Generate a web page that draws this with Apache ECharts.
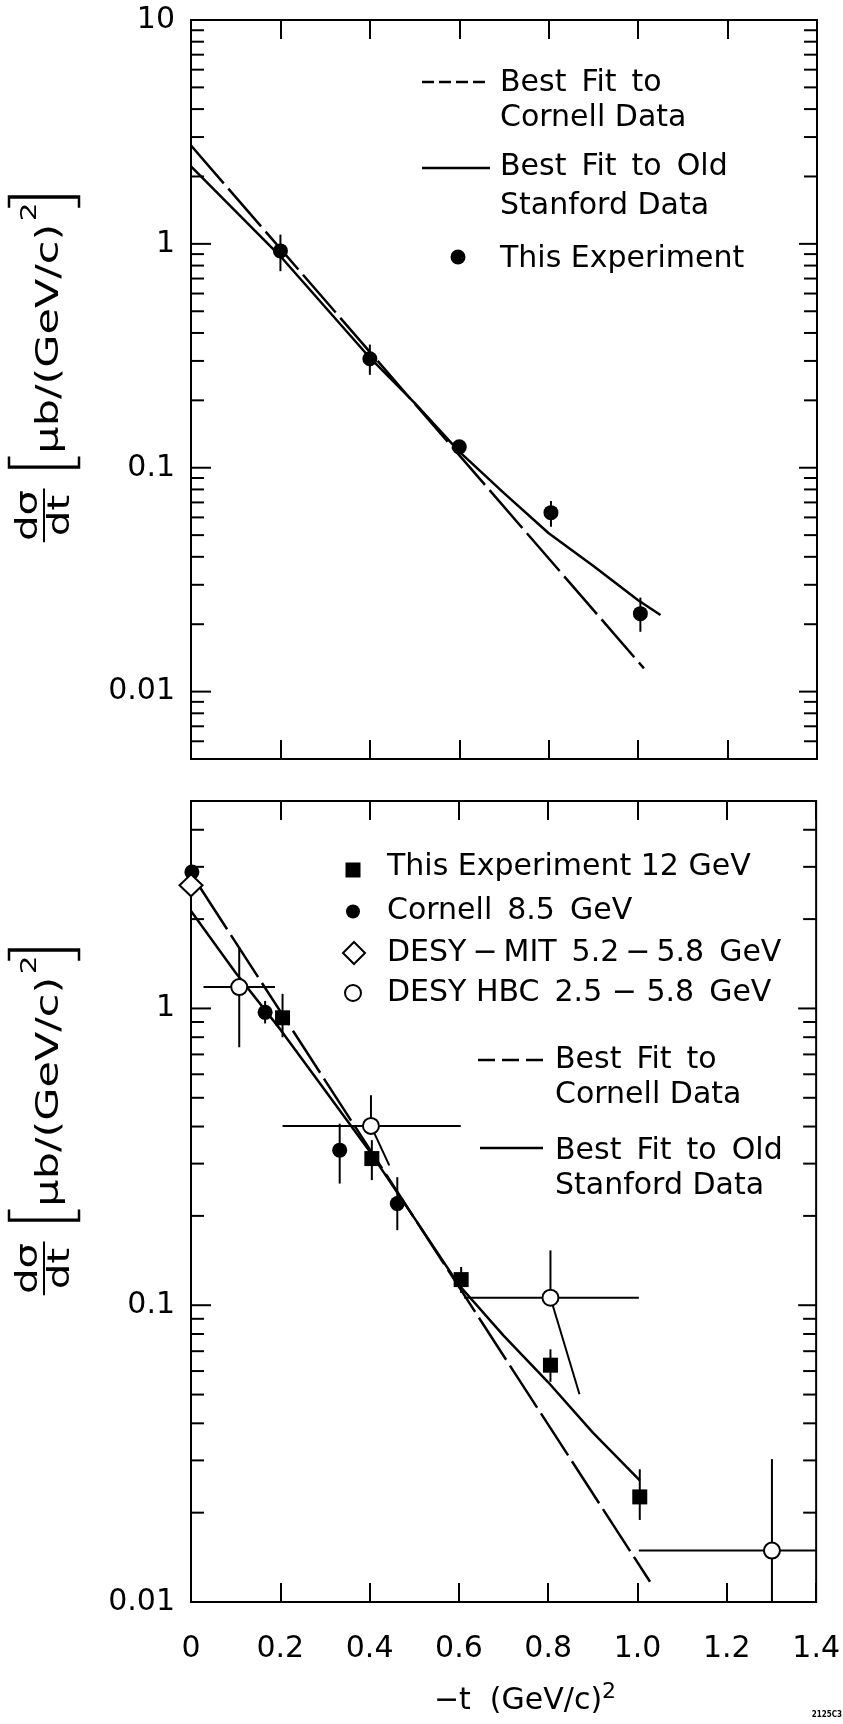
<!DOCTYPE html>
<html>
<head>
<meta charset="utf-8">
<script src="https://cdn.jsdelivr.net/npm/echarts@6/dist/echarts.min.js"></script>
<style>
html, body { margin: 0; padding: 0; background: #fff; }
#main { width: 843px; height: 1724px; }
</style>
</head>
<body>
<div id="main"></div>
<script>
// values, -t in (GeV/c)^2, dsigma/dt in ub/(GeV/c)^2

// upper panel
var topExpX = [0.2, 0.4, 0.6, 0.805, 1.005];
var topExpY = [0.93, 0.307, 0.124, 0.063, 0.0223];
var topExpLo = [0.755, 0.26, 0.113, 0.0545, 0.0185];
var topExpHi = [1.10, 0.355, 0.133, 0.071, 0.0263];

var topCornellFit = [[0, 2.75], [1.013, 0.0127]];
var topStanfordFit = [[0, 2.22], [0.2, 0.88], [0.4, 0.31], [0.5, 0.195], [0.6, 0.118], [0.7, 0.077],
  [0.8, 0.051], [0.9, 0.0364], [1.0, 0.0256], [1.05, 0.022]];

// lower panel
var expX = [0.205, 0.405, 0.605, 0.805, 1.005];
var expY = [0.93, 0.312, 0.122, 0.0628, 0.0226];
var expLo = [0.80, 0.264, 0.11, 0.0552, 0.0189];
var expHi = [1.12, 0.36, 0.1345, 0.071, 0.028];

var cornellX = [0.002, 0.166, 0.333, 0.462];
var cornellY = [2.88, 0.97, 0.333, 0.22];
var cornellLo = [null, 0.89, 0.257, 0.179];
var cornellHi = [null, 1.06, 0.409, 0.27];

var desyMitX = [0.0];
var desyMitY = [2.6];

var hbcX = [0.108, 0.403, 0.805, 1.301];
var hbcY = [1.18, 0.402, 0.106, 0.0149];
var hbcXLo = [0.028, 0.205, 0.612, 1.003];
var hbcXHi = [0.188, 0.604, 1.003, 1.4];
var hbcYHi = [1.61, 0.51, 0.153, 0.0303];
// lower ends of the vertical bars, two of them run slanted in the original
var hbcLowX = [0.108, 0.444, 0.87, 1.301];
var hbcLowY = [0.74, 0.296, 0.0501, 0.01];

var cornellFit = [[0.02, 2.56], [1.028, 0.0117]];
var stanfordFit = [[0, 2.13], [0.1, 1.32], [0.2, 0.85], [0.3, 0.53], [0.4, 0.33], [0.5, 0.197],
  [0.6, 0.117], [0.7, 0.079], [0.8, 0.055], [0.9, 0.0372], [1.005, 0.0257]];

// axes
var xTickLabels = ['0', '0.2', '0.4', '0.6', '0.8', '1.0', '1.2', '1.4'];
var yTickLabels = ['0.01', '0.1', '1', '10'];
var topMajor = [0.01, 0.1, 1, 10];
var topMinor = [0.006, 0.007, 0.008, 0.009, 0.02, 0.03, 0.04, 0.05, 0.06, 0.07, 0.08, 0.09,
  0.2, 0.3, 0.4, 0.5, 0.6, 0.7, 0.8, 0.9, 2, 3, 4, 5, 6, 7, 8, 9];
var botMajor = [0.01, 0.1, 1];
var botMinor = [0.02, 0.03, 0.04, 0.05, 0.06, 0.07, 0.08, 0.09,
  0.2, 0.3, 0.4, 0.5, 0.6, 0.7, 0.8, 0.9, 2, 3, 4];

var FONT = 'DejaVu Sans';
var INK = '#000';
var SP = '\u2002'; // the lettering has wide word gaps
var TH = '\u2009';

var chart = echarts.init(document.getElementById('main'), null, { renderer: 'canvas' });

function zip(xs, ys) {
  var out = [];
  for (var i = 0; i < xs.length; i++) out.push([xs[i], ys[i]]);
  return out;
}

var measureCtx = document.createElement('canvas').getContext('2d');
function textWidth(s, size) {
  measureCtx.font = size + 'px "' + FONT + '"';
  return measureCtx.measureText(s).width;
}

function xAxisFor(grid, pos, withLabels) {
  return {
    type: 'value', gridIndex: grid, position: pos, min: 0, max: 1.4, interval: 0.2,
    axisLine: { show: false },
    splitLine: { show: false },
    axisTick: { show: true, inside: true, length: 19, lineStyle: { color: INK, width: 2 } },
    axisLabel: {
      show: withLabels, margin: 32, color: INK, fontSize: 30, fontFamily: FONT,
      formatter: function (v) { return xTickLabels[Math.round(v / 0.2)]; }
    }
  };
}

function yAxisFor(grid, min, max) {
  return {
    type: 'log', logBase: 10, gridIndex: grid, min: min, max: max,
    axisLine: { show: false },
    splitLine: { show: false },
    axisTick: { show: false },
    axisLabel: {
      margin: 16, color: INK, fontSize: 30, fontFamily: FONT,
      formatter: function (v) {
        var e = Math.log10(v);
        var r = Math.round(e);
        if (Math.abs(e - r) > 1e-6) return '';
        return yTickLabels[r + 2] || '';
      }
    }
  };
}

// tick marks on both vertical edges, placed through the log axis
function tickSeries(grid, vals, lenL, lenR) {
  return {
    type: 'custom', xAxisIndex: grid * 2, yAxisIndex: grid, silent: true, clip: false, z: 5,
    data: vals.map(function (v) { return [0, v]; }),
    renderItem: function (params, api) {
      var v = api.value(1);
      var a = api.coord([0, v]);
      var b = api.coord([1.4, v]);
      return {
        type: 'group', children: [
          { type: 'line', shape: { x1: a[0], y1: a[1], x2: a[0] + lenL, y2: a[1] }, style: { stroke: INK, lineWidth: 2 } },
          { type: 'line', shape: { x1: b[0] - lenR, y1: b[1], x2: b[0], y2: b[1] }, style: { stroke: INK, lineWidth: 2 } }
        ]
      };
    }
  };
}

function vBars(grid, xs, lo, hi) {
  var data = [];
  for (var i = 0; i < xs.length; i++) {
    if (lo[i] != null) data.push([xs[i], lo[i], hi[i]]);
  }
  return {
    type: 'custom', xAxisIndex: grid * 2, yAxisIndex: grid, silent: true, z: 3,
    encode: { x: 0, y: [1, 2] },
    data: data,
    renderItem: function (params, api) {
      var a = api.coord([api.value(0), api.value(1)]);
      var b = api.coord([api.value(0), api.value(2)]);
      return { type: 'line', shape: { x1: a[0], y1: a[1], x2: b[0], y2: b[1] }, style: { stroke: INK, lineWidth: 2 } };
    }
  };
}

function hbcBars() {
  var data = [];
  for (var i = 0; i < hbcX.length; i++) {
    data.push([hbcX[i], hbcY[i], hbcXLo[i], hbcXHi[i], hbcYHi[i], hbcLowX[i], hbcLowY[i]]);
  }
  return {
    type: 'custom', xAxisIndex: 2, yAxisIndex: 1, silent: true, z: 3,
    encode: { x: [0, 2, 3, 5], y: [1, 4, 6] },
    data: data,
    renderItem: function (params, api) {
      var c = api.coord([api.value(0), api.value(1)]);
      var l = api.coord([api.value(2), api.value(1)]);
      var r = api.coord([api.value(3), api.value(1)]);
      var u = api.coord([api.value(0), api.value(4)]);
      var d = api.coord([api.value(5), api.value(6)]);
      var st = { stroke: INK, lineWidth: 2 };
      return {
        type: 'group', children: [
          { type: 'line', shape: { x1: l[0], y1: l[1], x2: r[0], y2: r[1] }, style: st },
          { type: 'line', shape: { x1: c[0], y1: c[1], x2: u[0], y2: u[1] }, style: st },
          { type: 'line', shape: { x1: c[0], y1: c[1], x2: d[0], y2: d[1] }, style: st }
        ]
      };
    }
  };
}

function fitLine(grid, data, dashed) {
  return {
    type: 'line', xAxisIndex: grid * 2, yAxisIndex: grid, data: data, silent: true, z: 2,
    showSymbol: false, symbol: 'none', smooth: false,
    lineStyle: { color: INK, width: 2.5, type: dashed ? [50, 7] : 'solid' }
  };
}

function dots(grid, data, symbol, size, filled) {
  return {
    type: 'scatter', xAxisIndex: grid * 2, yAxisIndex: grid, data: data, silent: true, z: 4,
    symbol: symbol, symbolSize: size,
    itemStyle: filled ? { color: INK, opacity: 1 } : { color: '#fff', borderColor: INK, borderWidth: 2, opacity: 1 }
  };
}

function txt(x, y, s, size, align) {
  return {
    type: 'text', x: x, y: y, silent: true,
    style: { text: s, fill: INK, fontSize: size || 30, fontFamily: FONT, align: align || 'left', verticalAlign: 'middle' }
  };
}

function seg(x1, y1, x2, y2, dash) {
  return {
    type: 'line', silent: true,
    shape: { x1: x1, y1: y1, x2: x2, y2: y2 },
    style: { stroke: INK, lineWidth: 2.5, lineDash: dash || null }
  };
}

// rotated axis title: d(sigma)/dt [ub/(GeV/c)^2], stretched along its length to the given span
function yTitle(x, yBottom, yTop) {
  var f = 32;
  var unit = 'μb/(GeV/c)';
  var w = textWidth(unit, f);
  var x0 = 58;
  var tx = x0 + 10;
  var sx = tx + w + 2;
  var bx = sx + 18;
  var br = { stroke: INK, lineWidth: 2.5, fill: null };
  return {
    type: 'group', x: x, y: yBottom, rotation: Math.PI / 2, scaleX: (yBottom - yTop) / bx, silent: true,
    children: [
      txt(22, -15, 'dσ', 30, 'center'),
      { type: 'line', shape: { x1: 2, y1: 0, x2: 42, y2: 0 }, style: { stroke: INK, lineWidth: 2 } },
      txt(22, 17, 'dt', 30, 'center'),
      { type: 'polyline', shape: { points: [[x0 + 8, -35], [x0, -35], [x0, 35], [x0 + 8, 35]] }, style: br },
      txt(tx, 6, unit, f, 'left'),
      txt(sx, -14, '2', 22, 'left'),
      { type: 'polyline', shape: { points: [[bx - 8, -35], [bx, -35], [bx, 35], [bx - 8, 35]] }, style: br }
    ]
  };
}

var graphics = [
  // upper legend
  seg(422, 82, 487, 82, [12, 5]),
  txt(500, 83, 'Best' + SP + 'Fit' + SP + 'to'),
  txt(500, 118, 'Cornell Data'),
  seg(422, 168, 490, 168),
  txt(500, 167, 'Best' + SP + 'Fit' + SP + 'to' + SP + 'Old'),
  txt(500, 206, 'Stanford Data'),
  { type: 'circle', shape: { cx: 458, cy: 257, r: 7.5 }, style: { fill: INK }, silent: true },
  txt(500, 259, 'This Experiment'),

  // lower legend
  { type: 'rect', shape: { x: 345.5, y: 862.5, width: 15, height: 15 }, style: { fill: INK }, silent: true },
  txt(387, 867, 'This Experiment 12 GeV'),
  { type: 'circle', shape: { cx: 353, cy: 911.5, r: 7 }, style: { fill: INK }, silent: true },
  txt(387, 911, 'Cornell' + SP + '8.5' + SP + 'GeV'),
  { type: 'polygon', shape: { points: [[354, 942], [365, 953], [354, 964], [343, 953]] }, style: { fill: '#fff', stroke: INK, lineWidth: 2 }, silent: true },
  txt(387, 953, 'DESY' + TH + '−' + TH + 'MIT' + SP + '5.2' + TH + '−' + TH + '5.8' + SP + 'GeV'),
  { type: 'circle', shape: { cx: 353, cy: 993, r: 8 }, style: { fill: '#fff', stroke: INK, lineWidth: 2 }, silent: true },
  txt(387, 993, 'DESY HBC' + SP + '2.5 − 5.8' + SP + 'GeV'),
  seg(478, 1060, 543, 1060, [17, 7]),
  txt(555, 1060, 'Best' + SP + 'Fit' + SP + 'to'),
  txt(555, 1095, 'Cornell Data'),
  seg(480, 1148, 543, 1148),
  txt(555, 1151, 'Best' + SP + 'Fit' + SP + 'to' + SP + 'Old'),
  txt(555, 1186, 'Stanford Data'),

  yTitle(44, 545, 197),
  yTitle(44, 1298, 950),

  {
    type: 'text', x: 525, y: 1701, silent: true,
    style: {
      text: '{a|−t  (GeV/c)}{s|2}', align: 'center', verticalAlign: 'middle',
      rich: {
        a: { fontSize: 30, fontFamily: FONT, fill: INK, lineHeight: 40 },
        s: { fontSize: 22, fontFamily: FONT, fill: INK, verticalAlign: 'top', lineHeight: 40 }
      }
    }
  },
  { type: 'text', x: 842, y: 1715, silent: true, style: { text: '2125C3', fill: INK, fontSize: 8, fontWeight: 'bold', fontFamily: 'DejaVu Sans Condensed', align: 'right', verticalAlign: 'middle' } }
];

chart.setOption({
  animation: false,
  backgroundColor: '#fff',
  grid: [
    { left: 191, top: 20, width: 626, height: 739, show: true, borderColor: INK, borderWidth: 2 },
    { left: 191, top: 801, width: 626, height: 801, show: true, borderColor: INK, borderWidth: 2 }
  ],
  xAxis: [
    xAxisFor(0, 'bottom', false),
    xAxisFor(0, 'top', false),
    xAxisFor(1, 'bottom', true),
    xAxisFor(1, 'top', false)
  ],
  yAxis: [
    yAxisFor(0, 0.005, 10),
    yAxisFor(1, 0.01, 5)
  ],
  series: [
    tickSeries(0, topMajor, 20, 18),
    tickSeries(0, topMinor, 13, 13),
    tickSeries(1, botMajor, 20, 18),
    tickSeries(1, botMinor, 13, 13),

    fitLine(0, topCornellFit, true),
    fitLine(0, topStanfordFit, false),
    vBars(0, topExpX, topExpLo, topExpHi),
    dots(0, zip(topExpX, topExpY), 'circle', 15, true),

    fitLine(1, cornellFit, true),
    fitLine(1, stanfordFit, false),
    vBars(1, expX, expLo, expHi),
    vBars(1, cornellX, cornellLo, cornellHi),
    hbcBars(),
    dots(1, zip(expX, expY), 'rect', 15, true),
    dots(1, zip(cornellX, cornellY), 'circle', 15, true),
    dots(1, zip(desyMitX, desyMitY), 'diamond', [23, 22], false),
    dots(1, zip(hbcX, hbcY), 'circle', 16, false)
  ],
  graphic: graphics
});
</script>
</body>
</html>
